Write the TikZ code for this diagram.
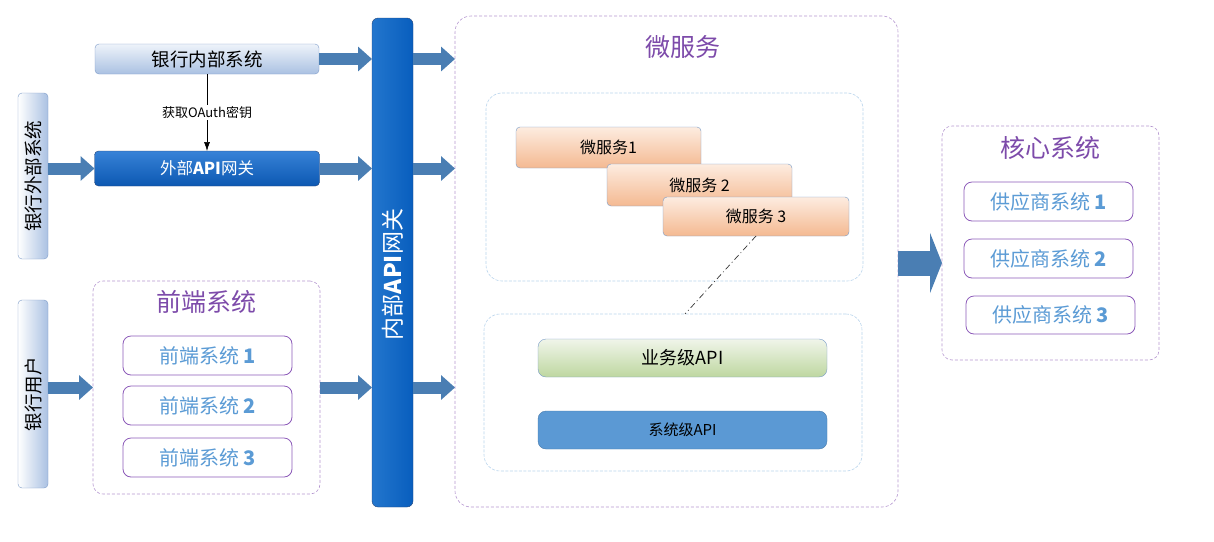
\documentclass[tikz,border=0pt]{standalone}
\usepackage{fontspec}
\setmainfont{Noto Sans CJK SC}
\usetikzlibrary{arrows.meta,calc}
\definecolor{arrowc}{RGB}{74,126,179}
\definecolor{grpc}{RGB}{180,150,208}
\definecolor{titlec}{RGB}{125,75,170}
\definecolor{itemborder}{RGB}{140,90,185}
\definecolor{itemtext}{RGB}{91,155,213}
\definecolor{innerc}{RGB}{185,212,236}
\definecolor{lbtop}{RGB}{238,243,250}
\definecolor{lbbot}{RGB}{170,193,226}
\definecolor{lbdraw}{RGB}{125,155,200}
\definecolor{dbtop}{RGB}{55,130,215}
\definecolor{dbbot}{RGB}{12,88,178}
\definecolor{dbdraw}{RGB}{40,70,120}
\definecolor{igwl}{RGB}{35,118,205}
\definecolor{igwr}{RGB}{8,94,190}
\definecolor{ortop}{RGB}{253,236,224}
\definecolor{orbot}{RGB}{244,185,145}
\definecolor{ordraw}{RGB}{120,155,200}
\definecolor{grtop}{RGB}{240,245,234}
\definecolor{grbot}{RGB}{190,215,160}
\definecolor{sysblue}{RGB}{91,153,212}
\tikzset{
  base/.style={inner sep=0pt, outer sep=0pt, rounded corners=4pt, align=center},
  lightbox/.style={base, draw=lbdraw, top color=lbtop, bottom color=lbbot, font=\fontsize{18.5}{22}\selectfont},
  vbox/.style={base, draw=lbdraw, left color=white, right color=lbbot, rotate=90, font=\fontsize{18.5}{22}\selectfont},
  darkbox/.style={base, draw=dbdraw, top color=dbtop, bottom color=dbbot, text=white},
  group/.style={base, draw=grpc, line width=0.6pt, dashed, dash pattern=on 3pt off 2pt, rounded corners=10pt},
  innergrp/.style={base, draw=innerc, line width=0.6pt, dashed, dash pattern=on 3pt off 1.5pt, rounded corners=16pt},
  grptitle/.style={text=titlec, font=\fontsize{25}{30}\selectfont},
  item/.style={base, draw=itemborder, line width=0.8pt, fill=white, rounded corners=8pt, text=itemtext, font=\fontsize{20}{24}\selectfont},
  msbox/.style={base, draw=ordraw, top color=ortop, bottom color=orbot, font=\fontsize{16}{19}\selectfont},
  bigarrow/.style={draw=arrowc, line width=12pt, -{Triangle[length=14pt,width=24pt]}},
}
\begin{document}
\begin{tikzpicture}[x=1pt,y=-1pt]
\useasboundingbox (0,0) rectangle (1214,541);
% groups
\node[group, minimum width=227pt, minimum height=213pt] (fe) at (206.5,387.5) {};
\node[grptitle] (fet) at (206.5,302) {前端系统};
\node[group, minimum width=443pt, minimum height=491pt, rounded corners=16pt] (ms) at (676.5,261.5) {};
\node[grptitle] (mst) at (683,47) {微服务};
\node[innergrp, minimum width=377pt, minimum height=188pt] (in1) at (674.5,187) {};
\node[innergrp, minimum width=378pt, minimum height=157pt] (in2) at (673,392.5) {};
\node[group, minimum width=217pt, minimum height=234pt] (core) at (1050.5,243) {};
\node[grptitle] (coret) at (1050.5,148) {核心系统};
% left boxes
\node[lightbox, minimum width=224pt, minimum height=30pt] (inner) at (207,59) {银行内部系统};
\node[darkbox, minimum width=225pt, minimum height=35pt, font=\fontsize{16.5}{20}\selectfont] (ext) at (207,168.5) {外部\textbf{API}网关};
\node[vbox, minimum width=166pt, minimum height=30pt] (extsys) at (33,176) {银行外部系统};
\node[vbox, minimum width=188pt, minimum height=30pt] (user) at (33,394) {银行用户};
\node[base, draw=dbdraw, left color=igwl, right color=igwr, text=white, rotate=90, minimum width=489pt, minimum height=41pt, rounded corners=6pt, font=\fontsize{23}{27}\selectfont] (igw) at (392.5,262.5) {内部\textbf{API}网关\hspace*{24pt}};
% front items
\node[item, minimum width=169pt, minimum height=39pt] (fe1) at (207.5,355.5) {前端系统 \textbf{1}};
\node[item, minimum width=169pt, minimum height=39pt] (fe2) at (207.5,405.5) {前端系统 \textbf{2}};
\node[item, minimum width=169pt, minimum height=39pt] (fe3) at (207.5,457.5) {前端系统 \textbf{3}};
% microservices
\node[msbox, minimum width=185pt, minimum height=41pt] (ms1) at (608.5,147.5) {微服务1};
\node[msbox, minimum width=185pt, minimum height=42pt] (ms2) at (699.5,185) {微服务 2};
\node[msbox, minimum width=186pt, minimum height=39pt] (ms3) at (756,216.5) {微服务 3};
\node[base, draw=ordraw, top color=grtop, bottom color=grbot, rounded corners=8pt, minimum width=289pt, minimum height=38pt, font=\fontsize{18}{21}\selectfont] (biz) at (682.5,358) {业务级API};
\node[base, draw=sysblue!80!black, fill=sysblue, rounded corners=8pt, minimum width=289pt, minimum height=38pt, font=\fontsize{15}{18}\selectfont] (sys) at (682.5,430) {系统级API};
% core items
\node[item, minimum width=169pt, minimum height=39pt] (sp1) at (1048.5,201.5) {供应商系统 \textbf{1}};
\node[item, minimum width=169pt, minimum height=39pt] (sp2) at (1048.5,258.5) {供应商系统 \textbf{2}};
\node[item, minimum width=169pt, minimum height=38pt] (sp3) at (1050.5,315) {供应商系统 \textbf{3}};
% arrows
\draw[bigarrow] (inner.east) -- (igw.north |- inner.east);
\draw[bigarrow] (extsys.south |- ext.west) -- (ext.west);
\draw[bigarrow] (ext.east) -- (igw.north |- ext.east);
\draw[bigarrow] (user.south |- fe.west) -- (fe.west);
\draw[bigarrow] (fe.east) -- (igw.north |- fe.east);
\draw[bigarrow] (igw.south |- inner.east) -- (ms.west |- inner.east);
\draw[bigarrow] (igw.south |- ext.east) -- (ms.west |- ext.east);
\draw[bigarrow] (igw.south |- fe.east) -- (ms.west |- fe.east);
\draw[draw=arrowc, line width=25pt, -{Triangle[length=12pt,width=60pt]}] ($(ms.east)+(0,1.5)$) -- ($(core.west |- ms.east)+(0,1.5)$);
\draw[-{Latex[length=9pt,width=6pt]}, line width=0.6pt] (inner.south) -- node[fill=white, inner sep=1.5pt, font=\fontsize{13}{15}\selectfont] (oauth) {获取OAuth密钥} (ext.north);
\draw[dash pattern=on 6pt off 3pt on 1pt off 3pt, line width=0.7pt, black!80] (ms3.south) -- ($(in2.north)+(12,0)$);
\end{tikzpicture}
\end{document}
